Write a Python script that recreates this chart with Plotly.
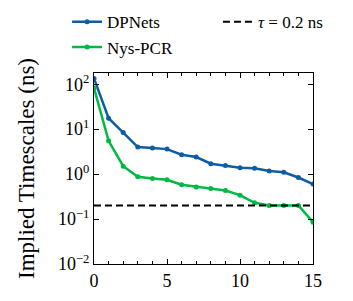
import plotly.graph_objects as go

x_idx = list(range(16))
dpnets = [135, 17.5, 8.4, 4.0, 3.8, 3.6, 2.7, 2.4, 1.7, 1.55, 1.38, 1.35, 1.17, 1.1, 0.84, 0.6]
nyspcr = [82, 5.5, 1.5, 0.87, 0.8, 0.75, 0.58, 0.52, 0.48, 0.43, 0.34, 0.23, 0.20, 0.20, 0.20, 0.085]
tau = 0.2
tau_x = [0, 15]
y_tickvals = [0.01, 0.1, 1, 10, 100]
y_ticktext = ["10<sup>−2</sup>", "10<sup>−1</sup>", "10<sup>0</sup>", "10<sup>1</sup>", "10<sup>2</sup>"]
x_tickvals = [0, 5, 10, 15]

BLUE = "#0C5DA5"
GREEN = "#00B945"
FONT = "Liberation Serif"

fig = go.Figure()
fig.add_trace(go.Scatter(x=x_idx, y=dpnets, mode="lines+markers", name="DPNets",
                         line=dict(color=BLUE, width=2.5), marker=dict(size=5, color=BLUE),
                         legend="legend"))
fig.add_trace(go.Scatter(x=x_idx, y=nyspcr, mode="lines+markers", name="Nys-PCR",
                         line=dict(color=GREEN, width=2.5), marker=dict(size=5, color=GREEN),
                         legend="legend"))
fig.add_trace(go.Scatter(x=tau_x, y=[tau, tau], mode="lines", name="<i>τ</i> = 0.2 ns",
                         line=dict(color="black", width=2, dash="7px,4px"),
                         legend="legend2"))

axis_common = dict(showline=True, linecolor="black", linewidth=1.2, mirror="ticks",
                   ticks="inside", tickcolor="black", ticklen=5, tickwidth=1,
                   showgrid=False, zeroline=False,
                   tickfont=dict(family=FONT, size=18, color="black"))

fig.update_xaxes(range=[0, 15], tickvals=x_tickvals,
                 minor=dict(ticks="inside", dtick=1, ticklen=3, tickcolor="black", showgrid=False),
                 **axis_common)
fig.update_yaxes(type="log", range=[-2, 2.25], tickvals=y_tickvals, ticktext=y_ticktext,
                 title=dict(text="Implied Timescales (ns)", font=dict(family=FONT, size=23, color="black"),
                            standoff=16),
                 **axis_common)

leg_common = dict(xanchor="left", yanchor="top",
                  font=dict(family=FONT, size=17, color="black"),
                  bgcolor="rgba(0,0,0,0)", itemwidth=30, tracegroupgap=0)

fig.update_layout(
    width=353, height=301,
    margin=dict(l=86, r=48, t=65, b=45, autoexpand=False),
    plot_bgcolor="white", paper_bgcolor="white",
    font=dict(family=FONT, color="black"),
    legend=dict(x=-0.123, y=1.36, **leg_common),
    legend2=dict(x=0.566, y=1.36, **leg_common),
    showlegend=True,
)

fig.write_html("out.html")
